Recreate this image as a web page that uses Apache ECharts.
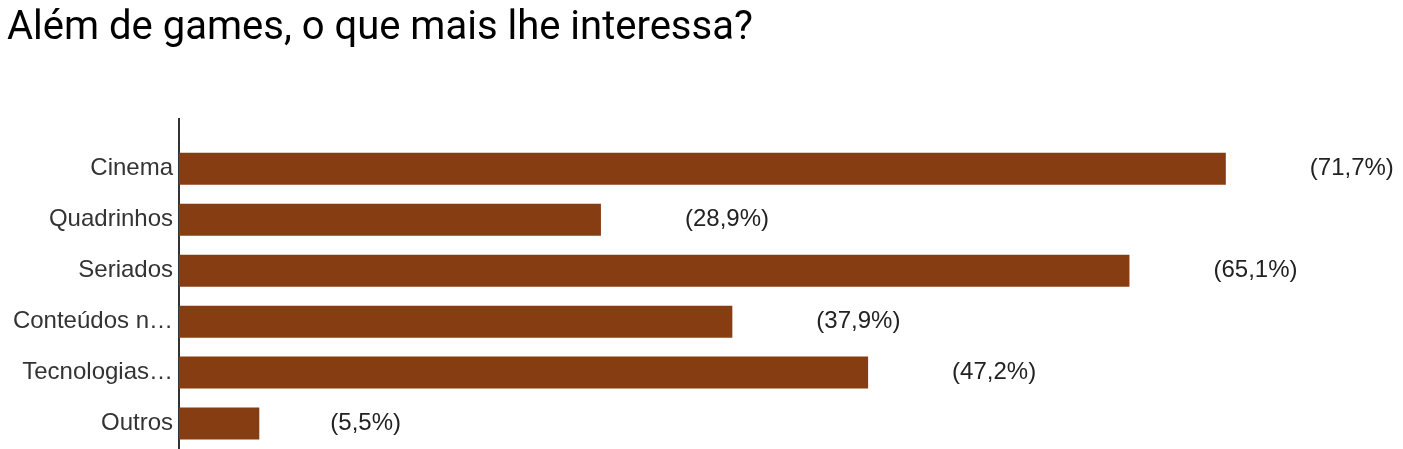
<!DOCTYPE html>
<html>
<head>
<meta charset="utf-8">
<script src="https://cdn.jsdelivr.net/npm/echarts@6/dist/echarts.min.js"></script>
<style>
  html, body { margin: 0; padding: 0; background: #fff; }
  #chart { width: 1403px; height: 449px; }
</style>
</head>
<body>
<div id="chart"></div>
<script>
// dados
const categories = ['Cinema', 'Quadrinhos', 'Seriados', 'Conteúdos n…', 'Tecnologias…', 'Outros']
const percentValues = [71.7, 28.9, 65.1, 37.9, 47.2, 5.5]
const percentLabels = ['(71,7%)', '(28,9%)', '(65,1%)', '(37,9%)', '(47,2%)', '(5,5%)']

const chart = echarts.init(document.getElementById('chart'))

const labelFont = '"Liberation Sans", Arial, sans-serif'

const option = {
  animation: false,
  title: {
    text: 'Além de games, o que mais lhe interessa?',
    left: 2,
    top: 4,
    textStyle: {
      fontFamily: 'Roboto',
      fontSize: 40,
      fontWeight: 'normal',
      color: '#000'
    }
  },
  grid: {
    left: 179,
    right: 56,
    top: 143.4,
    height: 307.2
  },
  xAxis: {
    type: 'value',
    min: 0,
    max: 80,
    show: false
  },
  yAxis: {
    type: 'category',
    inverse: true,
    data: categories,
    axisLine: {lineStyle: {color: '#333', width: 2}},
    axisTick: {show: false},
    axisLabel: {
      margin: 6,
      fontFamily: labelFont,
      fontSize: 24,
      color: '#333'
    }
  },
  // o eixo vai um pouco acima da primeira barra
  graphic: [{
    type: 'line',
    shape: {x1: 179, y1: 118, x2: 179, y2: 144},
    style: {stroke: '#333', lineWidth: 2}
  }],
  series: [{
    type: 'bar',
    barWidth: 32,
    itemStyle: {color: '#873d12'},
    data: percentValues.map((v, i) => ({
      value: v,
      label: i === percentValues.length - 1 ? {distance: 71} : undefined
    })),
    label: {
      show: true,
      position: 'right',
      distance: 84,
      fontFamily: labelFont,
      fontSize: 24,
      color: '#222',
      formatter: (p) => percentLabels[p.dataIndex]
    }
  }]
}

chart.setOption(option)
</script>
</body>
</html>
